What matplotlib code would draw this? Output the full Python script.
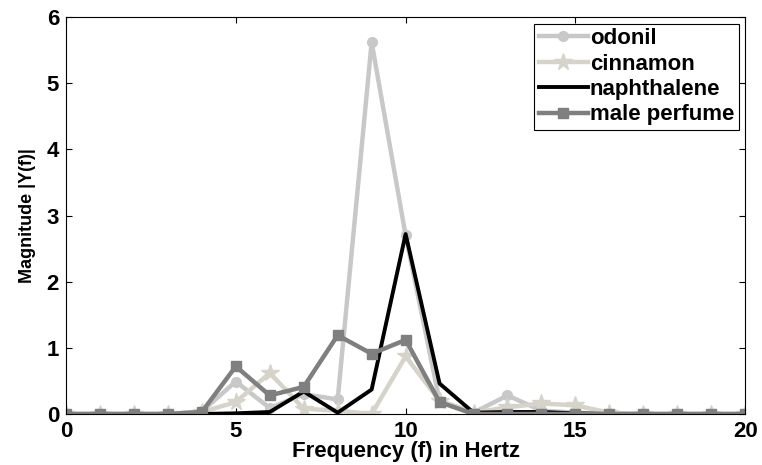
import matplotlib
matplotlib.use("Agg")
import matplotlib.pyplot as plt
import numpy as np

plt.rcParams['font.family'] = ['Liberation Sans', 'DejaVu Sans']
plt.rcParams['font.weight'] = 'bold'

# data
freq = list(range(0, 21))
odonil = [0, 0, 0, 0, 0.04, 0.49, 0.09, 0.3, 0.22, 5.62, 2.7, 0.2, 0.02, 0.28, 0.05, 0.02, 0, 0, 0, 0, 0]
cinnamon = [0, 0, 0, 0, 0.03, 0.18, 0.62, 0.08, 0.05, 0.0, 0.87, 0.2, 0.02, 0.1, 0.16, 0.13, 0.02, 0, 0, 0, 0]
naphthalene = [0, 0, 0, 0, 0, 0.01, 0.03, 0.34, 0.02, 0.37, 2.72, 0.46, 0.02, 0.03, 0.03, 0.01, 0, 0, 0, 0, 0]
male_perfume = [0, 0, 0, 0, 0.03, 0.72, 0.28, 0.41, 1.19, 0.91, 1.12, 0.18, 0, 0, 0, 0, 0, 0, 0, 0, 0]

fig = plt.figure(figsize=(7.62, 4.65), dpi=100)
ax = fig.add_axes([0.0866, 0.1097, 0.8914, 0.8537])

ax.plot(freq, odonil, color='#c8c8c8', lw=3.2, marker='o', ms=7, label='odonil')
ax.plot(freq, cinnamon, color='#d6d3cb', lw=3.2, marker='*', ms=13, label='cinnamon')
ax.plot(freq, naphthalene, color='black', lw=2.8, label='naphthalene')
ax.plot(freq, male_perfume, color='#7f7f7f', lw=3.2, marker='s', ms=7, label='male perfume')

ax.set_xlim(0, 20)
ax.set_ylim(0, 6)
ax.set_xticks([0, 5, 10, 15, 20])
ax.set_yticks(range(0, 7))
ax.tick_params(direction='in', top=True, right=True, labelsize=16, length=4, pad=5)
for t in ax.get_xticklabels() + ax.get_yticklabels():
    t.set_fontweight('bold')
ax.set_xlabel('Frequency (f) in Hertz', fontsize=16, fontweight='bold', labelpad=-1)
ax.set_ylabel('Magnitude |Y(f)|', fontsize=13, fontweight='bold', labelpad=8)

leg = ax.legend(loc='upper right', fontsize=16, fancybox=False, framealpha=1,
                edgecolor='black', borderpad=0.2, labelspacing=0.2,
                handlelength=2.2, handletextpad=0.1, borderaxespad=0.3)
leg.get_frame().set_linewidth(0.8)

fig.savefig('out.png', dpi=100)
